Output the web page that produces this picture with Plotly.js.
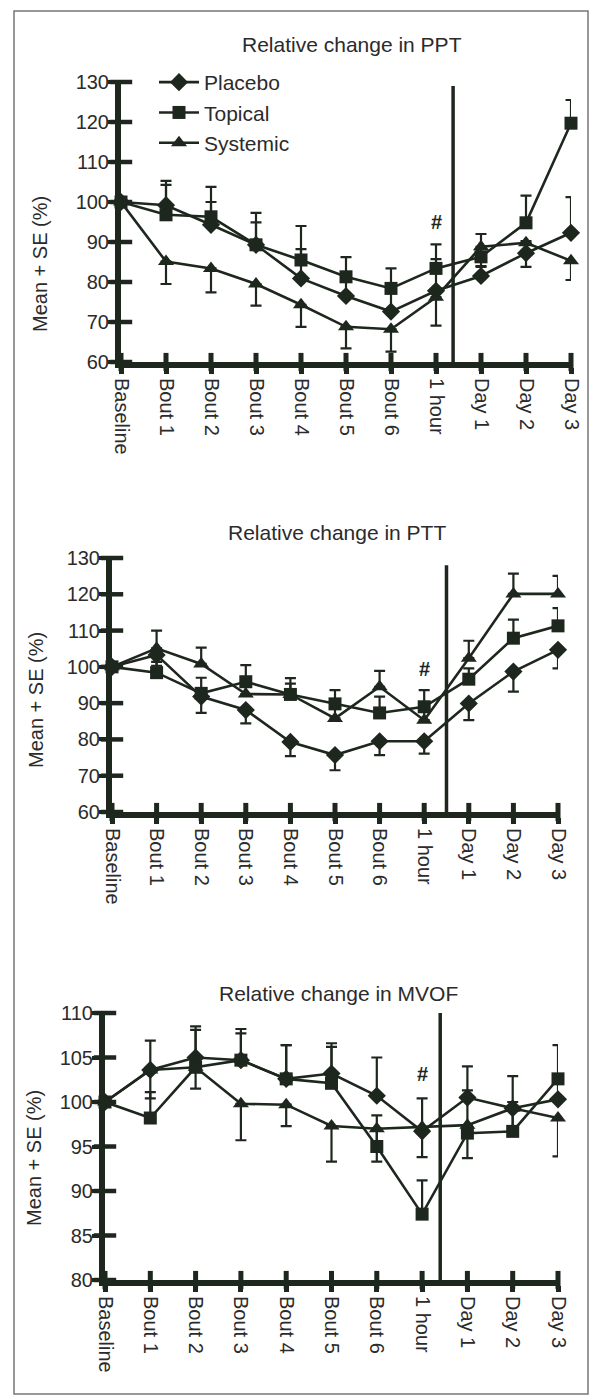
<!DOCTYPE html>
<html>
<head>
<meta charset="utf-8">
<script src="https://cdn.plot.ly/plotly-3.0.1.min.js"></script>
<style>
  html, body { margin: 0; padding: 0; background: #ffffff; }
  #chart { width: 600px; height: 1396px; }
</style>
</head>
<body>
<div id="chart"></div>
<script>
// ---------- data ----------
const timepoints = ['Baseline', 'Bout 1', 'Bout 2', 'Bout 3', 'Bout 4', 'Bout 5', 'Bout 6', '1 hour', 'Day 1', 'Day 2', 'Day 3'];
const groups = ['Placebo', 'Topical', 'Systemic'];

// Relative change in PPT
const pptPlacebo      = [100, 99.2, 94.3, 89.3, 80.9, 76.5, 72.6, 77.8, 81.5, 87.2, 92.3];
const pptPlaceboUp    = [0, 6.1, 5.7, 5.6, 7.3, 4.5, 5.0, 7.9, 2.5, 3.0, 8.9];
const pptTopical      = [100, 96.8, 96.3, 89.3, 85.5, 81.3, 78.4, 83.4, 86.3, 94.8, 119.7];
const pptTopicalUp    = [0, 7.5, 7.5, 8.0, 8.5, 4.9, 5.0, 6.0, 5.7, 6.8, 5.8];
const pptSystemic     = [100, 85.1, 83.4, 79.5, 74.3, 68.8, 68.2, 76.2, 88.8, 89.8, 85.3];
const pptSystemicDown = [0, 5.6, 6.0, 5.4, 5.5, 5.4, 5.6, 7.1, 5.0, 6.0, 4.8];

// Relative change in PTT
const pttPlacebo      = [100, 103.3, 91.8, 88.1, 79.3, 75.7, 79.5, 79.5, 89.9, 98.7, 104.7];
const pttPlaceboDown  = [0, 3.0, 4.5, 3.7, 3.9, 4.2, 3.8, 3.4, 4.6, 5.5, 5.1];
const pttTopical      = [100, 98.4, 92.7, 95.9, 92.4, 89.8, 87.3, 89.0, 96.6, 107.9, 111.3];
const pttTopicalUp    = [0, 3.0, 4.3, 4.6, 4.5, 3.8, 4.5, 4.6, 3.0, 5.1, 4.9];
const pttSystemic     = [100, 105.1, 100.8, 92.5, 92.4, 85.8, 94.5, 85.3, 102.4, 120.1, 120.1];
const pttSystemicUp   = [0, 4.9, 4.5, 3.0, 3.0, 3.0, 4.4, 3.0, 4.8, 5.6, 5.0];

// Relative change in MVOF
const mvofPlacebo      = [100, 103.6, 105.0, 104.7, 102.6, 103.2, 100.7, 96.7, 100.5, 99.3, 100.3];
const mvofPlaceboUp    = [0, 3.3, 3.5, 3.0, 3.8, 3.4, 4.3, 3.7, 3.5, 3.6, 2.0];
const mvofTopical      = [100, 98.2, 103.9, 104.7, 102.6, 102.1, 95.0, 87.4, 96.5, 96.7, 102.6];
const mvofTopicalUp    = [0, 2.9, 4.2, 3.5, 3.8, 4.1, 3.5, 3.8, 4.8, 3.3, 3.8];
const mvofSystemic     = [100, 103.6, 103.9, 99.8, 99.7, 97.3, 97.0, 97.2, 97.4, 99.3, 98.2];
const mvofSystemicDown = [0, 3.2, 2.4, 4.1, 2.4, 4.0, 3.7, 3.4, 3.7, 2.0, 4.3];

const panelTitles = ['Relative change in PPT', 'Relative change in PTT', 'Relative change in MVOF'];
const yAxisTitle = 'Mean + SE (%)';

// ---------- style / layout ----------
const W = 600, H = 1396;
const ink = '#1d271d';
const textCol = '#2b2b2b';
const FONT = 'Liberation Sans, Arial, Helvetica, sans-serif';
const xIdx = timepoints.map((_, i) => i);
const symbols = ['diamond', 'square', 'triangle-up'];
const sizes = [14, 13, 14];

// pixel frames of the three panels (left, right, top, bottom)
const frames = [
  {l: 121, r: 571, t: 82,   b: 362,  yr: [60, 130], dt: 10, title: [352, 44],  ylab: [40, 264],  div: [7.38, 129], hash: 95, star: 130.6},
  {l: 112, r: 558, t: 558,  b: 812,  yr: [60, 130], dt: 10, title: [337, 532], ylab: [36, 700],  div: [7.5, 128],  hash: 99.3},
  {l: 105, r: 558, t: 1013, b: 1280, yr: [80, 110], dt: 5,  title: [339, 993], ylab: [34, 1158], div: [7.4, 110],  hash: 103.2}
];

const panelData = [
  [[pptPlacebo, pptPlaceboUp, null], [pptTopical, pptTopicalUp, null], [pptSystemic, null, pptSystemicDown]],
  [[pttPlacebo, null, pttPlaceboDown], [pttTopical, pttTopicalUp, null], [pttSystemic, pttSystemicUp, null]],
  [[mvofPlacebo, mvofPlaceboUp, null], [mvofTopical, mvofTopicalUp, null], [mvofSystemic, null, mvofSystemicDown]]
];

const zeros = timepoints.map(() => 0);
const traces = [];
const layout = {
  width: W, height: H,
  margin: {l: 0, r: 0, t: 0, b: 0},
  paper_bgcolor: '#ffffff', plot_bgcolor: 'rgba(0,0,0,0)',
  font: {family: FONT, size: 20, color: textCol},
  showlegend: true,
  legend: {
    x: 154 / W, y: 1 - 62 / H, xanchor: 'left', yanchor: 'top',
    bgcolor: 'rgba(0,0,0,0)', font: {family: FONT, size: 21, color: textCol},
    tracegroupgap: 0, itemwidth: 40
  },
  annotations: [], shapes: []
};

frames.forEach((f, p) => {
  const n = p + 1;
  const xa = n === 1 ? 'x' : 'x' + n, ya = n === 1 ? 'y' : 'y' + n;
  const xk = n === 1 ? 'xaxis' : 'xaxis' + n, yk = n === 1 ? 'yaxis' : 'yaxis' + n;
  const xdom = [f.l / W, f.r / W], ydom = [1 - f.b / H, 1 - f.t / H];
  const yt = []; for (let v = f.yr[0]; v <= f.yr[1]; v += f.dt) yt.push(v);

  layout[xk] = {
    domain: xdom, anchor: ya, range: [0, 10], fixedrange: true,
    tickmode: 'array', tickvals: xIdx, ticktext: timepoints, tickangle: 90,
    ticks: 'outside', ticklen: 6, tickwidth: 5, tickcolor: ink,
    showline: true, linewidth: 6, linecolor: ink, showgrid: false, zeroline: false,
    tickfont: {family: FONT, size: 20, color: textCol}, automargin: false
  };
  layout[yk] = {
    domain: ydom, anchor: xa, range: f.yr, fixedrange: true,
    tickmode: 'array', tickvals: yt,
    ticks: 'outside', ticklen: 7, tickwidth: 4, tickcolor: ink, ticklabelstandoff: -5,
    showline: true, linewidth: 6, linecolor: ink, showgrid: false, zeroline: false,
    tickfont: {family: FONT, size: 20, color: textCol}, automargin: false
  };

  // tick marks crossing the axes (inner half)
  traces.push({x: yt.map(() => 0), y: yt, xaxis: xa, yaxis: ya, mode: 'markers', cliponaxis: false,
    marker: {symbol: 'line-ew', size: 16, color: ink, line: {color: ink, width: 4.5}},
    showlegend: false, hoverinfo: 'skip'});
  traces.push({x: xIdx, y: xIdx.map(() => f.yr[0]), xaxis: xa, yaxis: ya, mode: 'markers', cliponaxis: false,
    marker: {symbol: 'line-ns', size: 13, color: ink, line: {color: ink, width: 5}},
    showlegend: false, hoverinfo: 'skip'});

  panelData[p].forEach((s, g) => {
    const [vals, up, down] = s;
    traces.push({
      x: xIdx, y: vals, xaxis: xa, yaxis: ya,
      name: groups[g], legendgroup: groups[g], showlegend: p === 0,
      mode: 'lines+markers', cliponaxis: false,
      line: {color: ink, width: 2.6},
      marker: {symbol: symbols[g], size: sizes[g], color: ink, line: {width: 0}},
      error_y: {type: 'data', symmetric: false, array: up || zeros, arrayminus: down || zeros,
        color: ink, thickness: 2.2, width: 5.5}
    });
  });

  // panel title
  layout.annotations.push({xref: 'paper', yref: 'paper', x: f.title[0] / W, y: 1 - f.title[1] / H,
    text: panelTitles[p], showarrow: false, xanchor: 'center', yanchor: 'middle',
    font: {family: FONT, size: 21, color: textCol}});
  // y axis label
  layout.annotations.push({xref: 'paper', yref: 'paper', x: f.ylab[0] / W, y: 1 - f.ylab[1] / H,
    text: yAxisTitle, textangle: -90, showarrow: false, xanchor: 'center', yanchor: 'middle',
    font: {family: FONT, size: 20, color: textCol}});
  // significance marks
  layout.annotations.push({xref: xa, yref: ya, x: 7, y: f.hash, text: '<b>#</b>', showarrow: false,
    font: {family: FONT, size: 20, color: ink}});
  if (f.star) layout.annotations.push({xref: xa, yref: ya, x: 10, y: f.star, text: '<b>*</b>', showarrow: false,
    font: {family: FONT, size: 24, color: ink}});
  // divider between session and follow-up days
  layout.shapes.push({type: 'line', xref: xa, yref: ya, x0: f.div[0], x1: f.div[0], y0: f.yr[0], y1: f.div[1],
    line: {color: ink, width: 3.5}});
});

// outer frame of the figure
layout.shapes.push({type: 'rect', xref: 'paper', yref: 'paper', x0: 14 / W, x1: 588 / W, y0: 2 / H, y1: 1 - 11 / H,
  line: {color: '#777777', width: 1.5}, layer: 'below'});

Plotly.newPlot('chart', traces, layout, {displayModeBar: false, staticPlot: true});
</script>
</body>
</html>
